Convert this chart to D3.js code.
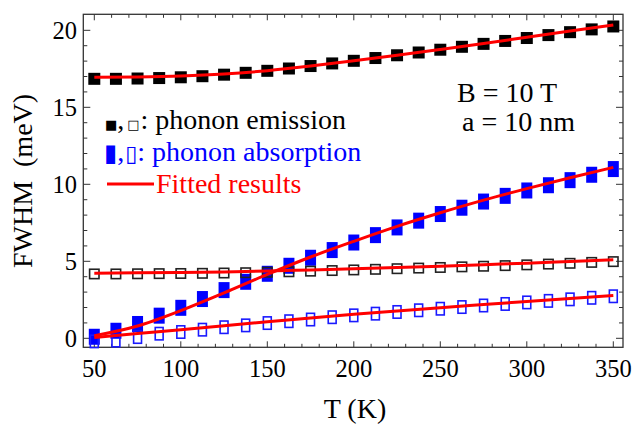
<!DOCTYPE html>
<html>
<head>
<meta charset="utf-8">
<script src="https://cdn.jsdelivr.net/npm/d3@7"></script>
<style>
  body { margin: 0; background: #fff; }
  svg { display: block; font-family: "Liberation Serif", "Times New Roman", serif; }
</style>
</head>
<body>
<svg id="chart" width="635" height="425"></svg>
<script>
// temperatures (K) of the measured/computed points
const temps = [50, 62.5, 75, 87.5, 100, 112.5, 125, 137.5, 150, 162.5, 175, 187.5, 200,
               212.5, 225, 237.5, 250, 262.5, 275, 287.5, 300, 312.5, 325, 337.5, 350];

// phonon emission (black)
const emisFilled = [16.85, 16.85, 16.87, 16.9, 16.95, 17.02, 17.12, 17.24, 17.37, 17.52, 17.68, 17.85, 18.02,
                    18.2, 18.38, 18.56, 18.74, 18.93, 19.12, 19.31, 19.5, 19.69, 19.88, 20.06, 20.25];
const emisOpen = [4.18, 4.18, 4.19, 4.2, 4.21, 4.22, 4.24, 4.26, 4.29, 4.32, 4.36, 4.4, 4.44,
                  4.48, 4.52, 4.56, 4.6, 4.64, 4.68, 4.72, 4.77, 4.82, 4.87, 4.93, 4.98];

// phonon absorption (blue)
const absFilled = [0.1, 0.49, 0.93, 1.47, 1.98, 2.55, 3.13, 3.67, 4.19, 4.71, 5.23, 5.73, 6.22,
                   6.7, 7.2, 7.64, 8.07, 8.48, 8.88, 9.25, 9.6, 9.94, 10.27, 10.62, 10.99];
const absOpen = [-0.2, -0.15, 0.08, 0.3, 0.41, 0.56, 0.72, 0.84, 0.99, 1.11, 1.22, 1.37, 1.49,
                 1.6, 1.71, 1.82, 1.92, 2.03, 2.13, 2.23, 2.33, 2.43, 2.53, 2.63, 2.73];

// fitted curves
const fitTemps = [50, 75, 100, 125, 150, 175, 200, 225, 250, 275, 300, 325, 350];
const fitEmisFilled = [16.95, 16.97, 17.03, 17.16, 17.38, 17.68, 18.02, 18.38, 18.76, 19.15, 19.55, 19.95, 20.35];
const fitEmisOpen = [4.23, 4.25, 4.27, 4.31, 4.37, 4.44, 4.51, 4.59, 4.68, 4.78, 4.88, 4.99, 5.1];
const fitAbsFilled = [0.17, 0.8, 1.8, 2.95, 4.15, 5.28, 6.3, 7.27, 8.15, 8.97, 9.72, 10.43, 11.1];
const fitAbsOpen = [0.05, 0.31, 0.56, 0.82, 1.07, 1.32, 1.56, 1.78, 1.99, 2.19, 2.39, 2.59, 2.78];

const xTicks = [50, 100, 150, 200, 250, 300, 350];
const yTicks = [0, 5, 10, 15, 20];

const svg = d3.select('#chart');
const pLeft = 83.3, pRight = 623, pTop = 14.3, pBottom = 347.3;

const x = d3.scaleLinear().domain([43.64, 355.6]).range([pLeft, pRight]);
const y = d3.scaleLinear().domain([-0.584, 21.04]).range([pBottom, pTop]);

const frameColor = '#333';

// ticks (inside, on all four sides)
const xMinor = d3.range(50, 351, 10).filter(v => xTicks.indexOf(v) < 0);
const yMinor = d3.range(0, 21, 1).filter(v => yTicks.indexOf(v) < 0);

const axes = svg.append('g')
  .attr('stroke', frameColor)
  .attr('stroke-width', 1);

function xTickLines(vals, len) {
  vals.forEach(v => {
    axes.append('line').attr('x1', x(v)).attr('x2', x(v)).attr('y1', pBottom).attr('y2', pBottom - len);
    axes.append('line').attr('x1', x(v)).attr('x2', x(v)).attr('y1', pTop).attr('y2', pTop + len);
  });
}
function yTickLines(vals, len) {
  vals.forEach(v => {
    axes.append('line').attr('x1', pLeft).attr('x2', pLeft + len).attr('y1', y(v)).attr('y2', y(v));
    axes.append('line').attr('x1', pRight).attr('x2', pRight - len).attr('y1', y(v)).attr('y2', y(v));
  });
}
xTickLines(xTicks, 6);
xTickLines(xMinor, 3.5);
yTickLines(yTicks, 7);
yTickLines(yMinor, 4);

axes.append('rect')
  .attr('x', pLeft).attr('y', pTop)
  .attr('width', pRight - pLeft).attr('height', pBottom - pTop)
  .attr('fill', 'none')
  .attr('stroke-width', 1.3);

// tick labels
svg.append('g').selectAll('text')
  .data(xTicks).enter().append('text')
  .attr('x', d => x(d))
  .attr('y', 377)
  .attr('text-anchor', 'middle')
  .style('font-size', '24.5px')
  .text(d => d);

svg.append('g').selectAll('text')
  .data(yTicks).enter().append('text')
  .attr('x', 77)
  .attr('y', d => y(d) + 8.3)
  .attr('text-anchor', 'end')
  .style('font-size', '24.5px')
  .text(d => d);

// axis titles
svg.append('text')
  .attr('x', 355).attr('y', 418)
  .attr('text-anchor', 'middle')
  .style('font-size', '28px')
  .text('T (K)');

svg.append('text')
  .attr('transform', 'translate(32,181)rotate(-90)')
  .attr('text-anchor', 'middle')
  .style('font-size', '28px')
  .style('white-space', 'pre')
  .text('FWHM  (meV)');

// markers
function markers(vals, w, h, filled, color, sw) {
  svg.append('g').selectAll('rect')
    .data(vals).enter().append('rect')
    .attr('x', (d, i) => x(temps[i]) - w / 2 + (filled ? 0 : sw / 2))
    .attr('y', d => y(d) - h / 2 + (filled ? 0 : sw / 2))
    .attr('width', filled ? w : w - sw)
    .attr('height', filled ? h : h - sw)
    .attr('fill', filled ? color : 'none')
    .attr('stroke', filled ? 'none' : color)
    .attr('stroke-width', sw);
}
markers(absFilled, 11, 16, true, '#0000ff', 0);
markers(absOpen, 9.5, 14, false, '#1a1aff', 1.6);
markers(emisFilled, 12, 12, true, '#000', 0);
markers(emisOpen, 11, 11, false, '#222', 1.6);

// fitted curves
const line = d3.line()
  .x((d, i) => x(fitTemps[i]))
  .y(d => y(d))
  .curve(d3.curveMonotoneX);

[fitEmisFilled, fitEmisOpen, fitAbsFilled, fitAbsOpen].forEach(f => {
  svg.append('path')
    .attr('d', line(f))
    .attr('fill', 'none')
    .attr('stroke', '#ff0000')
    .attr('stroke-width', 3);
});

// legend
const lg = svg.append('g').style('font-size', '28px');

const l1 = lg.append('text').attr('x', 105).attr('y', 129).attr('fill', '#000');
l1.append('tspan').style('font-family', 'DejaVu Sans').style('font-size', '13px').text('■');
l1.append('tspan').text(',');
l1.append('tspan').attr('dx', 3).style('font-family', 'DejaVu Sans').style('font-size', '13px').text('□');
l1.append('tspan').attr('dx', 1).text(': phonon emission');

const l2 = lg.append('text').attr('x', 104).attr('y', 161).attr('fill', '#0000ff');
l2.append('tspan').style('font-family', 'DejaVu Sans').style('font-size', '24px').text('▮');
l2.append('tspan').text(',');
l2.append('tspan').attr('dx', 1).style('font-family', 'DejaVu Sans').style('font-size', '22px').text('▯');
l2.append('tspan').text(': phonon absorption');

lg.append('line')
  .attr('x1', 107).attr('x2', 154)
  .attr('y1', 184).attr('y2', 184)
  .attr('stroke', '#ff0000')
  .attr('stroke-width', 3);
lg.append('text').attr('x', 156).attr('y', 193).attr('fill', '#ff0000').text('Fitted results');

// parameters
svg.append('text').attr('x', 457).attr('y', 102).style('font-size', '28px').text('B = 10 T');
svg.append('text').attr('x', 462).attr('y', 131).style('font-size', '28px').text('a = 10 nm');
</script>
</body>
</html>
